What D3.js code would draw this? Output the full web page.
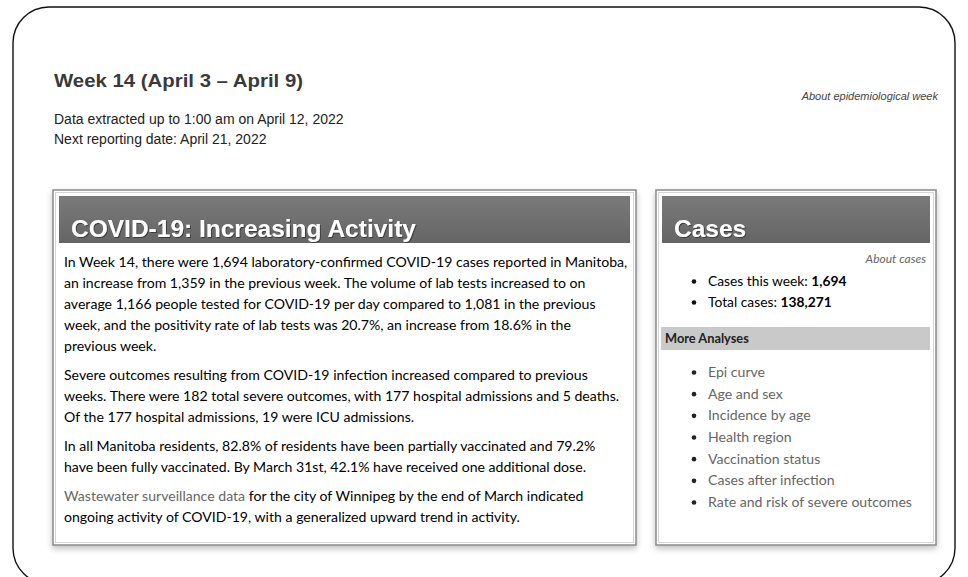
<!DOCTYPE html>
<html>
<head>
<meta charset="utf-8">
<script src="https://cdn.jsdelivr.net/npm/d3@7"></script>
<style>
  html, body { margin: 0; padding: 0; background: #fff; }
  svg { display: block; }
</style>
</head>
<body>
<div id="chart"></div>
<script>
// page text
var weekTitle = "Week 14 (April 3 \u2013 April 9)";
var metaLines = ["Data extracted up to 1:00 am on April 12, 2022", "Next reporting date: April 21, 2022"];
var aboutWeek = "About epidemiological week";

var summaryTitle = "COVID-19: Increasing Activity";
var summaryParagraphs = [
  ["In Week 14, there were 1,694 laboratory-confirmed COVID-19 cases reported in Manitoba,",
   "an increase from 1,359 in the previous week. The volume of lab tests increased to on",
   "average 1,166 people tested for COVID-19 per day compared to 1,081 in the previous",
   "week, and the positivity rate of lab tests was 20.7%, an increase from 18.6% in the",
   "previous week."],
  ["Severe outcomes resulting from COVID-19 infection increased compared to previous",
   "weeks. There were 182 total severe outcomes, with 177 hospital admissions and 5 deaths.",
   "Of the 177 hospital admissions, 19 were ICU admissions."],
  ["In all Manitoba residents, 82.8% of residents have been partially vaccinated and 79.2%",
   "have been fully vaccinated. By March 31st, 42.1% have received one additional dose."],
  ["Wastewater surveillance data for the city of Winnipeg by the end of March indicated",
   "ongoing activity of COVID-19, with a generalized upward trend in activity."]
];
var linkText = "Wastewater surveillance data";

var casesTitle = "Cases";
var aboutCases = "About cases";
var caseLabels = ["Cases this week: ", "Total cases: "];
var caseValues = ["1,694", "138,271"];
var moreTitle = "More Analyses";
var analyses = ["Epi curve", "Age and sex", "Incidence by age", "Health region",
  "Vaccination status", "Cases after infection", "Rate and risk of severe outcomes"];

var W = 968, H = 577;
var bodyFont = "Lato, 'Open Sans', sans-serif";
var headFont = "'Liberation Sans', Arial, sans-serif";

var svg = d3.select("#chart").append("svg")
  .attr("width", W).attr("height", H);

var defs = svg.append("defs");
var shadow = defs.append("filter").attr("id", "shadow")
  .attr("x", "-5%").attr("y", "-5%").attr("width", "110%").attr("height", "115%");
shadow.append("feGaussianBlur").attr("in", "SourceAlpha").attr("stdDeviation", 3);
shadow.append("feOffset").attr("dx", 0).attr("dy", 3).attr("result", "b");
shadow.append("feComponentTransfer").append("feFuncA").attr("type", "linear").attr("slope", 0.25);
var m = shadow.append("feMerge");
m.append("feMergeNode");
m.append("feMergeNode").attr("in", "SourceGraphic");

var grad = defs.append("linearGradient").attr("id", "bar")
  .attr("x1", 0).attr("x2", 0).attr("y1", 0).attr("y2", 1);
grad.append("stop").attr("offset", "0%").attr("stop-color", "#7a7a7a");
grad.append("stop").attr("offset", "100%").attr("stop-color", "#656565");

var ts = defs.append("filter").attr("id", "tshadow");
ts.append("feDropShadow").attr("dx", 1).attr("dy", 1).attr("stdDeviation", 0.6)
  .attr("flood-color", "#333").attr("flood-opacity", 0.8);

// outer rounded frame
svg.append("rect")
  .attr("x", 13).attr("y", 7).attr("width", 942).attr("height", 577)
  .attr("rx", 36).attr("ry", 36)
  .attr("fill", "none").attr("stroke", "#111").attr("stroke-width", 1.4);

// page header
svg.append("text")
  .attr("x", 54).attr("y", 87)
  .attr("font-family", headFont).attr("font-weight", "bold").attr("font-size", 19)
  .attr("textLength", 249).attr("lengthAdjust", "spacingAndGlyphs")
  .attr("fill", "#3a3a3a")
  .text(weekTitle);

var metaY = d3.scaleLinear().domain([0, 1]).range([124, 144]);
svg.selectAll("text.meta").data(metaLines).enter().append("text")
  .attr("class", "meta")
  .attr("x", 54).attr("y", function(d, i){ return metaY(i); })
  .attr("font-family", headFont).attr("font-size", 14).attr("fill", "#222")
  .text(function(d){ return d; });

svg.append("text")
  .attr("x", 938).attr("y", 100).attr("text-anchor", "end")
  .attr("font-family", headFont).attr("font-style", "italic").attr("font-size", 11)
  .attr("fill", "#444")
  .text(aboutWeek);

// panel helper
function panel(x, y, w, h, title){
  var g = svg.append("g");
  g.append("rect").attr("x", x).attr("y", y).attr("width", w).attr("height", h)
    .attr("fill", "#fff").attr("stroke", "#8a8a8a").attr("stroke-width", 1.5)
    .attr("filter", "url(#shadow)");
  g.append("rect").attr("x", x + 2.5).attr("y", y + 2.5).attr("width", w - 5).attr("height", h - 5)
    .attr("fill", "none").attr("stroke", "#d4d4d4").attr("stroke-width", 1);
  g.append("rect").attr("x", x + 6).attr("y", y + 6).attr("width", w - 12).attr("height", 47)
    .attr("fill", "url(#bar)");
  g.append("text").attr("x", x + 18).attr("y", y + 47)
    .attr("font-family", headFont).attr("font-weight", "bold").attr("font-size", 24.5)
    .attr("fill", "#fff").attr("filter", "url(#tshadow)")
    .text(title);
  return g;
}

// left summary panel
var left = panel(53, 190, 583, 355, summaryTitle);

var lineStep = 21, paraGap = 8;
var lineY = d3.scaleLinear().domain([0, 1]).range([267, 267 + lineStep]);
var rows = [], k = 0;
summaryParagraphs.forEach(function(p, pi){
  p.forEach(function(line){
    rows.push({ text: line, y: lineY(k) + pi * paraGap });
    k++;
  });
});

var rowText = left.selectAll("text.row").data(rows).enter().append("text")
  .attr("class", "row")
  .attr("x", 64).attr("y", function(d){ return d.y; })
  .attr("font-family", bodyFont).attr("font-size", 14.1).attr("fill", "#000");
rowText.each(function(d){
  var t = d3.select(this);
  if (d.text.indexOf(linkText) === 0) {
    t.append("tspan").attr("fill", "#666").text(linkText);
    t.append("tspan").text(d.text.slice(linkText.length));
  } else {
    t.text(d.text);
  }
});

// right cases panel
var right = panel(656, 190, 280, 355, casesTitle);

right.append("text")
  .attr("x", 926).attr("y", 263).attr("text-anchor", "end")
  .attr("font-family", bodyFont).attr("font-style", "italic").attr("font-size", 12)
  .attr("fill", "#666")
  .text(aboutCases);

var caseY = d3.scalePoint().domain(caseLabels).range([286, 307]);
var cs = right.selectAll("g.case").data(caseLabels).enter().append("g").attr("class", "case");
cs.append("circle")
  .attr("cx", 694).attr("cy", function(d){ return caseY(d) - 4.5; }).attr("r", 2.3)
  .attr("fill", "#111");
cs.append("text")
  .attr("x", 708).attr("y", function(d){ return caseY(d); })
  .attr("font-family", bodyFont).attr("font-size", 13.8).attr("fill", "#000")
  .each(function(d, i){
    var t = d3.select(this);
    t.append("tspan").text(d);
    t.append("tspan").attr("font-weight", "bold").text(caseValues[i]);
  });

right.append("rect")
  .attr("x", 661).attr("y", 327).attr("width", 269).attr("height", 23)
  .attr("fill", "#c9c9c9");
right.append("text")
  .attr("x", 665).attr("y", 343)
  .attr("font-family", bodyFont).attr("font-weight", "bold").attr("font-size", 12.8)
  .attr("fill", "#222")
  .text(moreTitle);

var anY = d3.scalePoint().domain(analyses).range([377, 507]);
var an = right.selectAll("g.an").data(analyses).enter().append("g").attr("class", "an");
an.append("circle")
  .attr("cx", 694).attr("cy", function(d){ return anY(d) - 4.5; }).attr("r", 2.3)
  .attr("fill", "#222");
an.append("text")
  .attr("x", 708).attr("y", function(d){ return anY(d); })
  .attr("font-family", bodyFont).attr("font-size", 14.1).attr("fill", "#666")
  .text(function(d){ return d; });
</script>
</body>
</html>
